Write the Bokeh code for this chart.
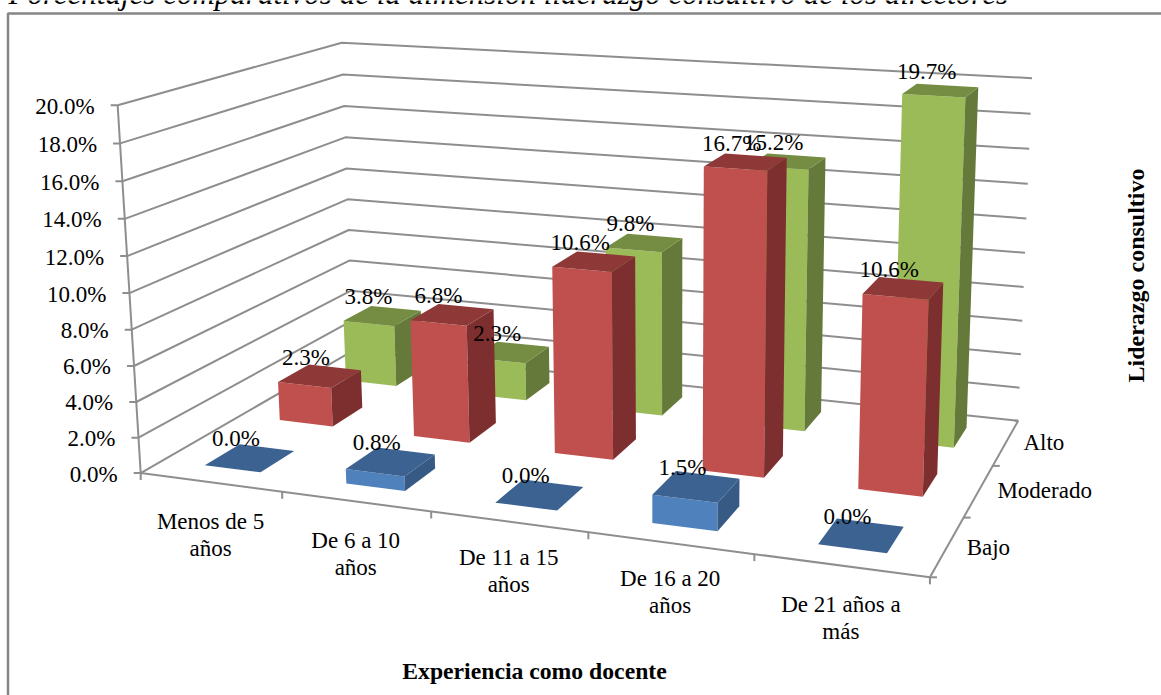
import numpy as np
from bokeh.plotting import figure
from bokeh.core.properties import value
from bokeh.embed import file_html
from bokeh.resources import INLINE

W, H = 1161, 695
SERIF = value("Liberation Serif")

# Chart data (percent)
title = "Porcentajes comparativos de la dimensión liderazgo consultivo de los directores"
categories = [["Menos de 5", "años"], ["De 6 a 10", "años"], ["De 11 a 15", "años"],
              ["De 16 a 20", "años"], ["De 21 años a", "más"]]
series_names = ["Bajo", "Moderado", "Alto"]
bajo = [0.0, 0.8, 0.0, 1.5, 0.0]
moderado = [2.3, 6.8, 10.6, 16.7, 10.6]
alto = [3.8, 2.3, 9.8, 15.2, 19.7]
y_ticks = [0, 2, 4, 6, 8, 10, 12, 14, 16, 18, 20]
x_title = "Experiencia como docente"
z_title = "Liderazgo consultivo"

# Face colours per series: front, side, top
faces = {
    "Bajo": ("#4F81BD", "#375A85", "#3C6291"),
    "Moderado": ("#C0504D", "#7C2F2E", "#8E3937"),
    "Alto": ("#9BBB59", "#64793A", "#748D42"),
}
GRID = "#8E8E8E"
FRAME = "#868686"

# Camera: 3x4 projective matrix fitted to the box corners and axis ticks
camera_points = [
    ((0, 0, 0), (140, 473)), ((5, 0, 0), (930, 577)), ((5, 0, 3), (1018, 419)),
    ((0, 0, 3), (354, 352)), ((0, 20, 0), (118, 106)), ((0, 20, 3), (340, 42.5)),
    ((5, 20, 3), (1033, 78)), ((1, 0, 0), (281, 491.5)), ((2, 0, 0), (431, 511)),
    ((3, 0, 0), (587, 532)), ((4, 0, 0), (754, 554)), ((5, 0, 1), (963, 517)),
    ((5, 0, 2), (992, 465)), ((0, 10, 0), (129, 290)), ((0, 10, 3), (347, 197)),
    ((5, 10, 3), (1023, 253)),
]
A, b = [], []
for (X, Y, Z), (u, v) in camera_points:
    A.append([X, Y, Z, 1, 0, 0, 0, 0, -u * X, -u * Y, -u * Z])
    b.append(u)
    A.append([0, 0, 0, 0, X, Y, Z, 1, -v * X, -v * Y, -v * Z])
    b.append(v)
sol = np.linalg.lstsq(np.array(A, float), np.array(b, float), rcond=None)[0]
CAM = np.append(sol, 1.0).reshape(3, 4)


def project(X, Y, Z):
    q = CAM @ np.array([X, Y, Z, 1.0])
    return q[0] / q[2], q[1] / q[2]


p = figure(width=W, height=H, x_range=(0, W), y_range=(H, 0), output_backend="svg",
           toolbar_location=None, min_border=0, outline_line_color=None,
           background_fill_color="white", border_fill_color="white")
p.axis.visible = False
p.grid.visible = False


def seg(a, b, color=GRID, width=2.0):
    p.line([a[0], b[0]], [a[1], b[1]], line_color=color, line_width=width)


def label(x, y, text, size="23px", style="normal", align="center", angle=0.0):
    p.text([x], [y], text=[text], text_font=SERIF, text_font_size=size,
           text_font_style=style, text_color="#000000", text_align=align,
           text_baseline="middle", angle=angle)


# Chart frame (its right and bottom sides fall outside the page)
p.line([W, 7.5, 7.5], [13, 13, H], line_color=FRAME, line_width=2.5)

# Title, clipped by the top of the page
p.text([8], [-7], text=[title], text_font=SERIF, text_font_size="31px",
       text_font_style="italic", text_color="#000000", text_align="left",
       text_baseline="middle")

# Walls: value gridlines run along the left wall and then the back wall
for t in y_ticks:
    a, b_, c = project(0, t, 0), project(0, t, 3), project(5, t, 3)
    p.line([a[0], b_[0], c[0]], [a[1], b_[1], c[1]], line_color=GRID, line_width=2.0)
    seg((a[0] - 7, a[1]), a)
    label(a[0] - 23, a[1] + 1, f"{t:.1f}%", align="right")

# Value axis and floor edges
seg(project(0, 0, 0), project(0, 20, 0))
seg(project(0, 0, 0), project(5, 0, 0))
seg(project(5, 0, 0), project(5, 0, 3))

# Category ticks and labels along the front edge
category_drop = [39, 39, 36, 35, 39]
for i, lines in enumerate(categories):
    t0 = project(i + 1, 0, 0)
    seg(t0, (t0[0], t0[1] + 7))
    mid = project(i + 0.5, 0, 0)
    label(mid[0], mid[1] + category_drop[i], lines[0])
    label(mid[0], mid[1] + category_drop[i] + 27, lines[1])
t0 = project(0, 0, 0)
seg(t0, (t0[0], t0[1] + 7))

# Series ticks and labels along the right floor edge
series_shift = [(41, 1), (66, 0), (38, 0)]
for k, name in enumerate(series_names):
    t0 = project(5, 0, k)
    seg(t0, (t0[0] + 7, t0[1]))
    mid = project(5, 0, k + 0.5)
    label(mid[0] + series_shift[k][0], mid[1] + series_shift[k][1], name)
t0 = project(5, 0, 3)
seg(t0, (t0[0] - 4, t0[1]))

# Bars, from the back row to the front so nearer ones cover farther ones
BAR_W, BAR_D = 0.40, 0.45
rows = {"Bajo": bajo, "Moderado": moderado, "Alto": alto}
pending_labels = []
for k in (2, 1, 0):
    name = series_names[k]
    front, side, top = faces[name]
    for i, val in enumerate(rows[name]):
        x0, x1 = i + 0.5 - BAR_W / 2, i + 0.5 + BAR_W / 2
        z0, z1 = k + 0.5 - BAR_D / 2, k + 0.5 + BAR_D / 2
        if val > 0:
            quad = [project(x0, 0, z0), project(x1, 0, z0), project(x1, val, z0), project(x0, val, z0)]
            p.patch([q[0] for q in quad], [q[1] for q in quad], fill_color=front, line_color=None)
            quad = [project(x1, 0, z0), project(x1, 0, z1), project(x1, val, z1), project(x1, val, z0)]
            p.patch([q[0] for q in quad], [q[1] for q in quad], fill_color=side, line_color=None)
        quad = [project(x0, val, z0), project(x1, val, z0), project(x1, val, z1), project(x0, val, z1)]
        p.patch([q[0] for q in quad], [q[1] for q in quad], fill_color=top, line_color=None)
        c = project(i + 0.5, val, k + 0.5)
        pending_labels.append((c[0] - 14, c[1] - 19, f"{val:.1f}%"))

# Value labels sit above every bar
for x, y, text in pending_labels:
    label(x, y, text)

# Axis titles
label(534, 670, x_title, size="23.7px", style="bold")
label(1135, 275, z_title, size="24px", style="bold", angle=np.pi / 2)

open("out.html", "w").write(file_html(p, INLINE))
